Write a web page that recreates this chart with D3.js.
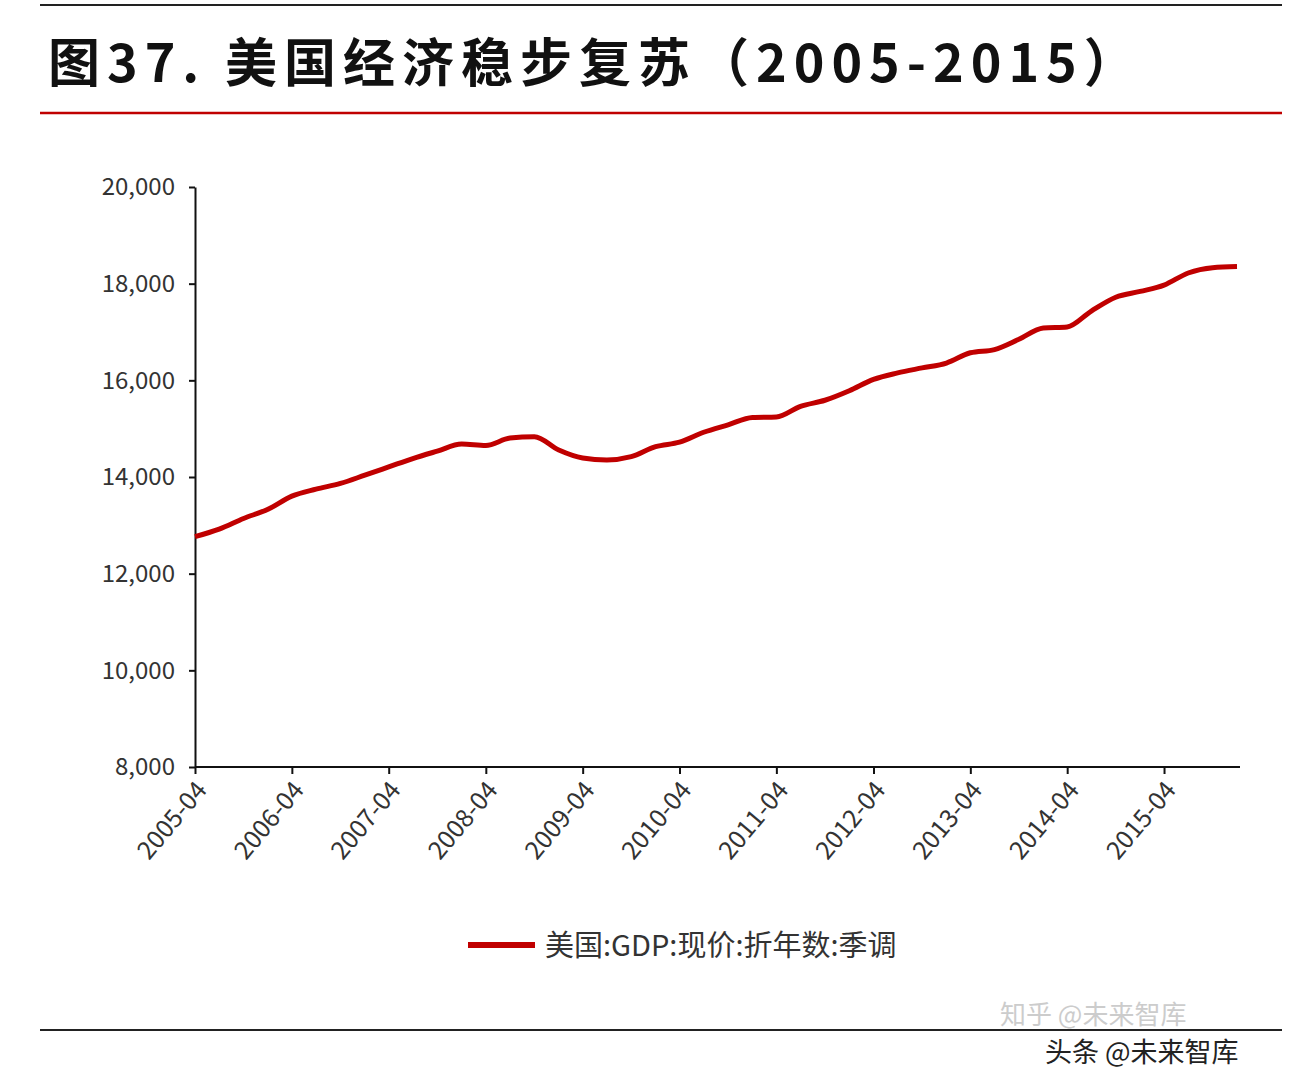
<!DOCTYPE html>
<html><head><meta charset="utf-8">
<script src="https://cdn.jsdelivr.net/npm/d3@7"></script>
<style>body{margin:0;background:#fff}</style>
</head><body>
<svg id="svg"></svg>
<script>
const title = "图37. 美国经济稳步复苏（2005-2015）";
const seriesName = "美国:GDP:现价:折年数:季调";
const startDate = new Date(2005, 3, 1);
const gdp = [12767,12922,13142,13332,13604,13749,13867,14037,14208,14382,14535,14681,
  14651,14805,14835,14559,14394,14352,14420,14628,14721,14926,15080,15231,
  15242,15462,15588,15785,16019,16153,16257,16358,16570,16637,16849,17083,
  17105,17433,17719,17839,17970,18221,18331,18354];
const yTicks = [8000,10000,12000,14000,16000,18000,20000];
const xTickYears = [2005,2006,2007,2008,2009,2010,2011,2012,2013,2014,2015];

const data = gdp.map((v,i) => ({date: d3.timeMonth.offset(startDate, i*3), v}));

const W = 1316, H = 1092;
const svg = d3.select("#svg").attr("width", W).attr("height", H);

svg.append("line").attr("x1",40).attr("x2",1282).attr("y1",5).attr("y2",5).attr("stroke","#222").attr("stroke-width",2);
svg.append("text").attr("x",48).attr("y",82).attr("font-size",52).attr("font-weight","bold")
  .attr("font-family","'Noto Sans CJK SC'").attr("fill","#111").attr("letter-spacing",7).text(title);
svg.append("line").attr("x1",40).attr("x2",1282).attr("y1",113).attr("y2",113).attr("stroke","#c00000").attr("stroke-width",2.5);

const x = d3.scaleTime().domain([startDate, new Date(2016,0,1)]).range([195,1237]);
const y = d3.scaleLinear().domain([8000,20000]).range([767,187]);

const font = "'Noto Sans CJK SC', sans-serif";
const ya = svg.append("g").attr("transform","translate(195,0)")
  .call(d3.axisLeft(y).tickValues(yTicks).tickFormat(d3.format(",")).tickSize(6).tickSizeOuter(0));
ya.select(".domain").attr("stroke","#111").attr("stroke-width",2);
ya.selectAll("line").attr("stroke","#111").attr("stroke-width",2);
ya.selectAll("text").attr("font-size",24).attr("font-family",font).attr("fill","#333").attr("x",-20);

const xa = svg.append("g").attr("transform","translate(0,767)")
  .call(d3.axisBottom(x).tickValues(xTickYears.map(yr => new Date(yr,3,1))).tickFormat(d3.timeFormat("%Y-%m")).tickSize(7).tickSizeOuter(0));
xa.select(".domain").attr("stroke","#111").attr("stroke-width",2).attr("d","M195,0H1240");
xa.selectAll("line").attr("stroke","#111").attr("stroke-width",2);
xa.selectAll("text").attr("font-size",25).attr("font-family",font).attr("fill","#333")
  .attr("text-anchor","end").attr("dy","0.35em").attr("transform","translate(6,18) rotate(-50)").attr("x",0).attr("y",0);

svg.append("path").datum(data).attr("fill","none").attr("stroke","#c00000").attr("stroke-width",5)
  .attr("d", d3.line().x(d => x(d.date)).y(d => y(d.v)).curve(d3.curveMonotoneX));

svg.append("line").attr("x1",468).attr("x2",535).attr("y1",945).attr("y2",945).attr("stroke","#c00000").attr("stroke-width",6);
svg.append("text").attr("x",545).attr("y",956).attr("font-size",29).attr("font-family",font).attr("fill","#333").text(seriesName);

svg.append("line").attr("x1",40).attr("x2",1282).attr("y1",1030).attr("y2",1030).attr("stroke","#222").attr("stroke-width",2);
svg.append("text").attr("x",1000).attr("y",1024).attr("font-size",26).attr("font-family",font).attr("fill","#ccc").text("知乎 @未来智库");
svg.append("text").attr("x",1045).attr("y",1062).attr("font-size",27).attr("font-family",font).attr("fill","#222").text("头条 @未来智库");
</script>
</body></html>
